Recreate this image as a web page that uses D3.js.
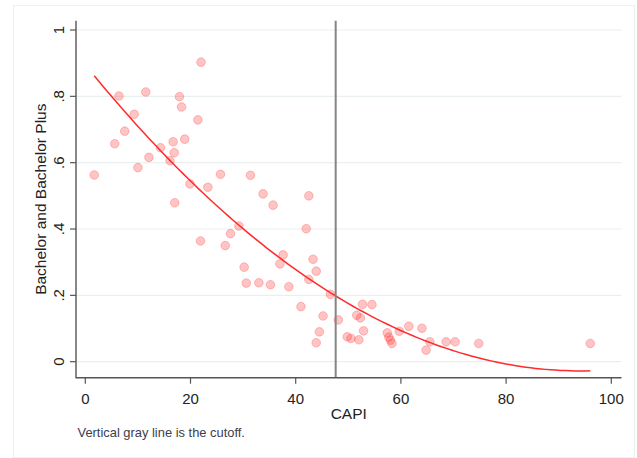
<!DOCTYPE html>
<html><head><meta charset="utf-8">
<script src="https://cdn.jsdelivr.net/npm/d3@7"></script>
<style>
html,body{margin:0;padding:0;background:#fff;}
svg{display:block;font-family:"Liberation Sans",Arial,sans-serif;}
</style></head>
<body>
<svg id="chart" width="637" height="458"></svg>
<script>
// Data
const capi = [1.7,5.6,6.4,7.5,9.3,10.0,11.5,12.1,14.3,16.1,16.7,16.9,17.0,17.9,18.3,18.9,19.9,21.4,21.9,22.0,23.3,25.7,26.6,27.6,29.2,30.2,30.6,31.4,33.0,33.8,35.2,35.7,37.0,37.6,38.7,41.0,42.0,42.5,42.5,43.3,43.9,43.9,44.5,45.2,46.6,48.1,49.8,50.5,51.6,52.0,52.3,52.7,52.9,54.5,57.4,57.7,58.0,58.3,59.7,61.5,64.0,64.8,65.5,68.6,70.3,74.8,96.0];
const bachelor = [0.563,0.657,0.801,0.695,0.746,0.585,0.813,0.616,0.645,0.606,0.663,0.630,0.479,0.799,0.768,0.671,0.536,0.729,0.364,0.903,0.526,0.565,0.350,0.386,0.409,0.285,0.237,0.562,0.238,0.506,0.232,0.472,0.295,0.322,0.226,0.166,0.401,0.500,0.248,0.309,0.273,0.057,0.090,0.138,0.203,0.126,0.075,0.070,0.140,0.066,0.132,0.173,0.093,0.172,0.087,0.074,0.065,0.055,0.092,0.107,0.101,0.035,0.060,0.060,0.060,0.055,0.055];
const cutoff = 47.6;
const xTicks = [0,20,40,60,80,100];
const xTickLabels = ["0","20","40","60","80","100"];
const yTicks = [0,0.2,0.4,0.6,0.8,1];
const yTickLabels = ["0",".2",".4",".6",".8","1"];

(function(){
const svg = d3.select("#chart");
const x = d3.scaleLinear().domain([0,100]).range([85.3,611.3]);
const y = d3.scaleLinear().domain([0,1]).range([361.7,30]);
const pL = 76, pR = 621.5, pT = 20.7, pB = 377.7;

// faint outer frame
svg.append("rect").attr("x",13.5).attr("y",5.5).attr("width",621).attr("height",452)
  .attr("fill","none").attr("stroke","#f0f0f0");

// gridlines
svg.append("g").selectAll("line").data(yTicks).join("line")
  .attr("x1",pL).attr("x2",pR).attr("y1",d=>y(d)).attr("y2",d=>y(d))
  .attr("stroke","#eaf0f0").attr("stroke-width",1.2);

// quadratic fit (least squares on the data)
function qfit(xs, ys){
  let S=[0,0,0,0,0], T=[0,0,0];
  xs.forEach((xi,i)=>{ for(let k=0;k<5;k++) S[k]+=Math.pow(xi,k); for(let k=0;k<3;k++) T[k]+=ys[i]*Math.pow(xi,k); });
  const A=[[S[0],S[1],S[2],T[0]],[S[1],S[2],S[3],T[1]],[S[2],S[3],S[4],T[2]]];
  for(let i=0;i<3;i++){ for(let j=i+1;j<3;j++){ const f=A[j][i]/A[i][i]; for(let k=i;k<4;k++) A[j][k]-=f*A[i][k]; } }
  const c=[0,0,0];
  for(let i=2;i>=0;i--){ let s=A[i][3]; for(let k=i+1;k<3;k++) s-=A[i][k]*c[k]; c[i]=s/A[i][i]; }
  return c;
}
const coef = qfit(capi, bachelor);
const xmin = d3.min(capi), xmax = d3.max(capi);
const fitPts = d3.range(0,101).map(i=>{ const xv = xmin + (xmax-xmin)*i/100; return [xv, coef[0]+coef[1]*xv+coef[2]*xv*xv]; });

// points
svg.append("g").selectAll("circle").data(capi.map((d,i)=>[d,bachelor[i]])).join("circle")
  .attr("cx",d=>x(d[0])).attr("cy",d=>y(d[1])).attr("r",4.3)
  .attr("fill","rgba(255,60,60,0.3)").attr("stroke","rgba(255,60,60,0.3)").attr("stroke-width",1);

svg.append("path").datum(fitPts)
  .attr("d", d3.line().x(d=>x(d[0])).y(d=>y(d[1])))
  .attr("fill","none").attr("stroke","#ff2a2a").attr("stroke-width",1.5);

// cutoff line
svg.append("line").attr("x1",x(cutoff)).attr("x2",x(cutoff)).attr("y1",pT).attr("y2",pB)
  .attr("stroke","#858585").attr("stroke-width",2);

// axes
const axisColor = "#555";
svg.append("line").attr("x1",pL).attr("x2",pL).attr("y1",pT).attr("y2",pB+0.5).attr("stroke",axisColor).attr("stroke-width",1.4);
svg.append("line").attr("x1",pL).attr("x2",pR).attr("y1",pB).attr("y2",pB).attr("stroke",axisColor).attr("stroke-width",1.4);

svg.append("g").selectAll("line").data(xTicks).join("line")
  .attr("x1",d=>x(d)).attr("x2",d=>x(d)).attr("y1",pB).attr("y2",pB+6)
  .attr("stroke",axisColor).attr("stroke-width",1.2);
svg.append("g").selectAll("text").data(xTicks).join("text")
  .attr("x",d=>x(d)).attr("y",404).attr("text-anchor","middle")
  .attr("font-size",15).attr("fill","#222").text((d,i)=>xTickLabels[i]);

svg.append("g").selectAll("line").data(yTicks).join("line")
  .attr("x1",pL-6).attr("x2",pL).attr("y1",d=>y(d)).attr("y2",d=>y(d))
  .attr("stroke",axisColor).attr("stroke-width",1.2);
svg.append("g").selectAll("text").data(yTicks).join("text")
  .attr("transform",d=>`translate(63.5,${y(d)}) rotate(-90)`).attr("text-anchor","middle")
  .attr("font-size",15).attr("fill","#222").text((d,i)=>yTickLabels[i]);

svg.append("text").attr("x",(pL+pR)/2).attr("y",418.5).attr("text-anchor","middle")
  .attr("font-size",15.5).attr("fill","#222").text("CAPI");
svg.append("text").attr("transform",`translate(45.5,${(pT+pB)/2}) rotate(-90)`).attr("text-anchor","middle")
  .attr("font-size",15.5).attr("fill","#222").text("Bachelor and Bachelor Plus");

svg.append("text").attr("x",77.5).attr("y",437).attr("font-size",12.9).attr("fill","#3d3d4a")
  .text("Vertical gray line is the cutoff.");
})();
</script>
</body></html>
